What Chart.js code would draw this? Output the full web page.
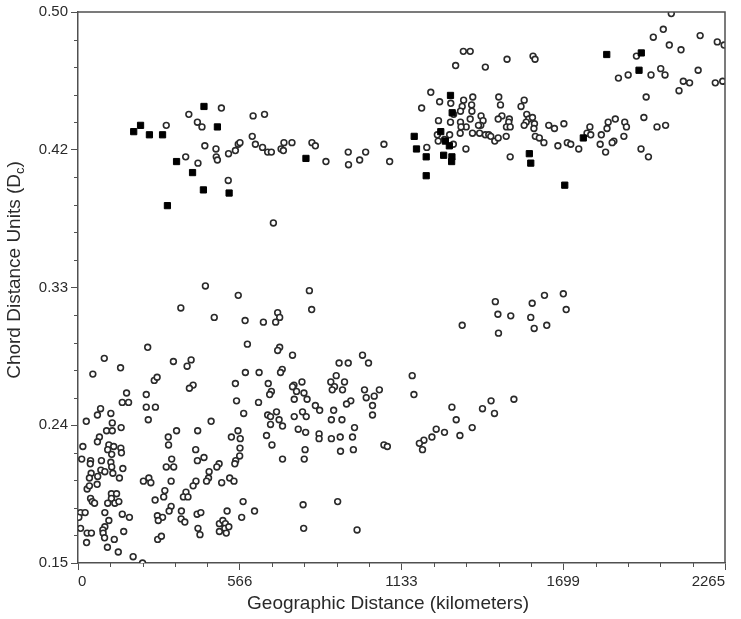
<!DOCTYPE html>
<html>
<head>
<meta charset="utf-8">
<script src="https://cdn.jsdelivr.net/npm/chart.js@4.4.1/dist/chart.umd.min.js"></script>
<style>
  body { margin: 0; background: #fff; }
  canvas { display: block; }
</style>
</head>
<body>
<canvas id="chart" width="741" height="619"></canvas>
<script>
// axis ticks (evenly spaced, labels as printed)
const xTicks = [0, 566.25, 1132.5, 1698.75, 2265];
const xTickLabels = ['0', '566', '1133', '1699', '2265'];
const yTicks = [0.15, 0.2375, 0.325, 0.4125, 0.5];
const yTickLabels = ['0.15', '0.24', '0.33', '0.42', '0.50'];

// filled squares: [km, Dc]
const squarePoints = [
    [195,0.424],[219,0.428],[250,0.422],[296,0.422],[441,0.440],[488,0.427],[345,0.405],[401,0.398],
    [439,0.387],[529,0.385],[313,0.377],[798,0.407],[1304,0.447],[1310,0.436],[1177,0.421],[1270,0.424],
    [1286,0.418],[1300,0.415],[1185,0.413],[1219,0.408],[1280,0.409],[1309,0.408],[1308,0.405],[1219,0.396],
    [1580,0.410],[1585,0.404],[1704,0.390],[1851,0.473],[1972,0.474],[1964,0.463],[1769,0.420]
];

// open circles: [km, Dc]
const circlePoints = [
    // upper band
    [309,0.428],[388,0.435],[418,0.430],[434,0.427],[502,0.439],[444,0.415],[483,0.413],[484,0.408],
    [488,0.406],[527,0.410],[551,0.412],[561,0.416],[377,0.408],[420,0.404],[526,0.393],
    [613,0.434],[653,0.435],[610,0.421],[567,0.417],[621,0.416],[646,0.414],[664,0.411],[677,0.411],
    [711,0.413],[719,0.412],[721,0.417],[749,0.417],[819,0.417],[831,0.415],[868,0.405],[946,0.411],
    [947,0.403],[986,0.406],[1007,0.411],[1071,0.416],[1091,0.405],[684,0.366],
    [1322,0.466],[1426,0.465],[1349,0.475],[1373,0.475],[1502,0.470],[1593,0.472],[1600,0.470],
    [1235,0.449],[1203,0.439],[1266,0.443],[1305,0.442],[1350,0.444],[1382,0.446],[1473,0.446],[1479,0.441],
    [1562,0.444],[1551,0.440],[1345,0.440],[1339,0.437],[1378,0.441],[1379,0.437],[1315,0.435],[1411,0.434],
    [1373,0.432],[1418,0.431],[1262,0.431],[1304,0.430],[1339,0.430],[1410,0.428],[1402,0.428],[1484,0.434],
    [1471,0.432],[1510,0.432],[1508,0.430],[1500,0.427],[1513,0.427],[1571,0.435],[1578,0.432],[1591,0.433],
    [1569,0.430],[1562,0.428],[1598,0.429],[1596,0.426],[1648,0.428],[1668,0.426],[1701,0.429],[1359,0.427],
    [1341,0.427],[1338,0.423],[1301,0.422],[1258,0.422],[1381,0.423],[1406,0.423],[1426,0.422],[1438,0.422],
    [1445,0.421],[1459,0.418],[1471,0.420],[1499,0.421],[1261,0.418],[1283,0.419],[1314,0.416],[1221,0.414],
    [1358,0.413],[1601,0.421],[1615,0.420],[1631,0.417],[1680,0.415],[1713,0.417],[1513,0.408],
    [2077,0.499],[2049,0.489],[2014,0.484],[2178,0.485],[2238,0.481],[2262,0.479],[2070,0.479],[2111,0.476],
    [1955,0.472],[2040,0.464],[2055,0.460],[2006,0.460],[1926,0.460],[1892,0.458],[2171,0.463],[2119,0.456],
    [2141,0.455],[2104,0.450],[2231,0.455],[2257,0.456],[1989,0.446],[1981,0.433],[2027,0.427],[2057,0.428],
    [1881,0.432],[1856,0.430],[1914,0.430],[1920,0.427],[1852,0.426],[1792,0.427],[1782,0.423],[1795,0.422],
    [1832,0.422],[1911,0.421],[1876,0.418],[1870,0.417],[1828,0.416],[1847,0.411],[1753,0.413],[1725,0.416],
    [1971,0.413],[1997,0.408],
    // lower band, right part
    [1461,0.316],[1590,0.315],[1633,0.320],[1699,0.321],[1709,0.311],[1470,0.308],[1515,0.307],[1585,0.306],
    [1345,0.301],[1472,0.296],[1597,0.299],[1641,0.301],
    [1170,0.269],[1176,0.257],[1309,0.249],[1324,0.241],[1416,0.248],[1446,0.253],[1458,0.245],[1526,0.254],
    [1380,0.236],[1337,0.231],[1283,0.233],[1254,0.235],[1239,0.230],[1211,0.228],[1195,0.226],[1206,0.222],
    // lower band, left part
    [446,0.326],[561,0.320],[360,0.312],[477,0.306],[244,0.287],[92,0.280],[149,0.274],[52,0.270],
    [334,0.278],[396,0.279],[382,0.275],[267,0.266],[277,0.268],[403,0.263],[390,0.261],[551,0.264],
    [555,0.253],[170,0.258],[155,0.252],[177,0.252],[239,0.257],[239,0.249],[271,0.249],[79,0.248],
    [68,0.244],[115,0.245],[29,0.240],[246,0.241],[466,0.240],
    [810,0.323],[818,0.311],[585,0.304],[649,0.303],[699,0.309],[706,0.306],[692,0.303],[593,0.289],
    [706,0.287],[699,0.285],[751,0.282],[586,0.271],[634,0.271],[715,0.273],[709,0.271],[666,0.264],
    [756,0.263],[751,0.262],[784,0.265],[677,0.259],[671,0.257],[765,0.259],[791,0.258],[757,0.254],
    [802,0.254],[632,0.252],[831,0.250],[846,0.247],[580,0.245],[664,0.244],[674,0.243],[695,0.246],
    [704,0.241],[757,0.243],[786,0.246],[799,0.243],[914,0.277],[946,0.277],[996,0.282],[1017,0.277],
    [904,0.269],[885,0.265],[898,0.262],[890,0.260],[933,0.265],[926,0.260],[1003,0.260],[1055,0.260],
    [1009,0.255],[1037,0.256],[955,0.253],[940,0.251],[1031,0.250],[895,0.247],[887,0.241],[924,0.241],
    [1031,0.244],
    [674,0.238],[716,0.237],[968,0.236],[560,0.234],[568,0.229],[660,0.231],[679,0.225],[771,0.235],
    [797,0.233],[844,0.232],[844,0.229],[887,0.229],[918,0.230],[961,0.230],[964,0.222],[919,0.221],
    [795,0.222],[792,0.216],[716,0.216],[1071,0.225],[1083,0.224],[567,0.223],[566,0.218],[552,0.215],
    [578,0.189],[573,0.179],[618,0.183],[788,0.187],[909,0.189],[790,0.172],[977,0.171],
    [120,0.239],[151,0.236],[100,0.234],[120,0.234],[75,0.230],[68,0.227],[17,0.224],[108,0.225],
    [125,0.224],[104,0.222],[118,0.219],[150,0.223],[152,0.220],[13,0.216],[44,0.215],[43,0.213],
    [82,0.215],[115,0.214],[118,0.211],[157,0.210],[80,0.209],[94,0.208],[122,0.207],[46,0.207],
    [40,0.204],[69,0.205],[145,0.204],[67,0.200],[32,0.197],[40,0.199],[44,0.191],[50,0.189],
    [58,0.188],[117,0.194],[135,0.194],[117,0.191],[104,0.188],[129,0.188],[143,0.189],[9,0.182],
    [25,0.182],[3,0.179],[94,0.182],[155,0.181],[180,0.179],[108,0.177],[94,0.173],[87,0.171],
    [88,0.169],[93,0.166],[160,0.170],[9,0.172],[32,0.169],[47,0.169],[30,0.163],[127,0.165],
    [103,0.160],[141,0.157],[193,0.154],[226,0.150],
    [316,0.230],[317,0.225],[345,0.234],[419,0.234],[537,0.230],[412,0.222],[441,0.217],[418,0.215],
    [328,0.216],[309,0.211],[335,0.211],[494,0.213],[486,0.211],[549,0.213],[459,0.208],[457,0.204],
    [450,0.202],[413,0.202],[403,0.199],[503,0.201],[531,0.204],[546,0.202],[229,0.202],[248,0.204],
    [255,0.201],[326,0.202],[304,0.196],[300,0.192],[270,0.190],[378,0.195],[369,0.192],[385,0.192],
    [326,0.186],[319,0.183],[278,0.180],[296,0.179],[281,0.177],[362,0.183],[361,0.178],[374,0.176],
    [417,0.181],[430,0.182],[420,0.172],[427,0.168],[279,0.165],[292,0.167],[522,0.183],[495,0.175],
    [507,0.177],[516,0.175],[514,0.172],[528,0.173],[495,0.170],[519,0.169]
];

const AXIS_COLOR = '#505050';
const TEXT_COLOR = '#2a2a2a';
const FONT = 'Liberation Sans, Arial, sans-serif';

// minor ticks, top/right frame and the axis titles
const framePlugin = {
    id: 'frame',
    afterDraw(chart) {
        const { ctx, chartArea: a, scales } = chart;
        const x = scales.x, y = scales.y;
        ctx.save();
        ctx.strokeStyle = AXIS_COLOR;
        ctx.lineWidth = 1;
        ctx.beginPath();
        for (let i = 0; i <= 20; i++) {
            if (i % 5 === 0) continue;
            const px = Math.round(x.getPixelForValue(2265 * i / 20)) + 0.5;
            ctx.moveTo(px, a.bottom); ctx.lineTo(px, a.bottom + 4);
            const py = Math.round(y.getPixelForValue(0.15 + 0.35 * i / 20)) + 0.5;
            ctx.moveTo(a.left, py); ctx.lineTo(a.left - 4, py);
        }
        ctx.stroke();

        ctx.lineWidth = 1.5;
        ctx.beginPath();
        ctx.moveTo(a.left, a.top);
        ctx.lineTo(a.right, a.top);
        ctx.lineTo(a.right, a.bottom);
        ctx.stroke();

        // titles
        ctx.fillStyle = TEXT_COLOR;
        ctx.font = '19px ' + FONT;
        ctx.textAlign = 'center';
        ctx.textBaseline = 'middle';
        ctx.fillText('Geographic Distance (kilometers)', 388, 604);

        const main = 'Chord Distance Units (D';
        ctx.save();
        ctx.translate(15, 270);
        ctx.rotate(-Math.PI / 2);
        ctx.textAlign = 'left';
        const w1 = ctx.measureText(main).width;
        ctx.font = '13px ' + FONT;
        const w2 = ctx.measureText('c').width;
        ctx.font = '19px ' + FONT;
        const w3 = ctx.measureText(')').width;
        let sx = -(w1 + w2 + w3) / 2;
        ctx.fillText(main, sx, 0);
        sx += w1;
        ctx.font = '13px ' + FONT;
        ctx.fillText('c', sx, 5);
        sx += w2;
        ctx.font = '19px ' + FONT;
        ctx.fillText(')', sx, 0);
        ctx.restore();

        ctx.restore();
    }
};

const toXY = p => ({ x: p[0], y: p[1] });

new Chart(document.getElementById('chart'), {
    type: 'scatter',
    data: {
        datasets: [
            {
                label: 'squares',
                data: squarePoints.map(toXY),
                pointStyle: 'rect',
                pointRadius: 4.4,
                backgroundColor: '#000',
                borderColor: '#000',
                borderWidth: 1
            },
            {
                label: 'circles',
                data: circlePoints.map(toXY),
                pointStyle: 'circle',
                pointRadius: 2.9,
                backgroundColor: '#fff',
                borderColor: '#2a2a2a',
                borderWidth: 1.6
            }
        ]
    },
    options: {
        responsive: false,
        animation: false,
        devicePixelRatio: 1,
        layout: { padding: { top: 8, right: 16, left: 0, bottom: 0 } },
        plugins: { legend: { display: false }, tooltip: { enabled: false } },
        scales: {
            x: {
                type: 'linear',
                min: 0,
                max: 2265,
                afterBuildTicks: s => { s.ticks = xTicks.map(v => ({ value: v })); },
                afterFit: s => { s.height = 56; },
                ticks: {
                    callback: (v, i) => xTickLabels[i],
                    autoSkip: false,
                    maxRotation: 0,
                    align: 'inner',
                    padding: 3,
                    color: TEXT_COLOR,
                    font: { family: FONT, size: 15 }
                },
                grid: { drawOnChartArea: false, tickLength: 7, color: AXIS_COLOR },
                border: { color: AXIS_COLOR, width: 1.5 }
            },
            y: {
                type: 'linear',
                min: 0.15,
                max: 0.5,
                afterBuildTicks: s => { s.ticks = yTicks.map(v => ({ value: v })); },
                afterFit: s => { s.width = 78; },
                ticks: {
                    callback: (v, i) => yTickLabels[i],
                    autoSkip: false,
                    padding: 3,
                    color: TEXT_COLOR,
                    font: { family: FONT, size: 15 }
                },
                grid: { drawOnChartArea: false, tickLength: 7, color: AXIS_COLOR },
                border: { color: AXIS_COLOR, width: 1.5 }
            }
        }
    },
    plugins: [framePlugin]
});
</script>
</body>
</html>
